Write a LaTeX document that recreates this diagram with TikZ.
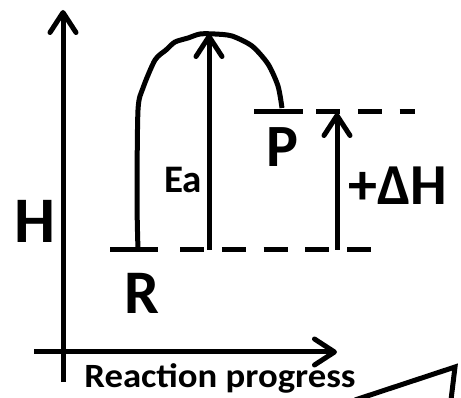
\documentclass[tikz,border=0pt]{standalone}
\usepackage{fontspec}
\setmainfont{Carlito}
\usetikzlibrary{arrows.meta, positioning}

\begin{document}
\begin{tikzpicture}[
  x=1pt, y=-1pt,
  line width=5pt,
  arrow/.style={-{Straight Barb[length=20pt, width=26pt, round]}, line join=round},
  level/.style={dash pattern=on 24pt off 17.8pt},
  lbl/.style={inner sep=0pt, font=\bfseries\fontsize{#1}{#1}\selectfont},
]
\useasboundingbox (0,0) rectangle (461,398);

% Axes
\coordinate (ybot) at (63,382);
\coordinate (ytop) at (63,10);
\coordinate (xleft) at (34,352);
\coordinate (xright) at (337,352);
\draw[arrow] (ybot) -- (ytop);
\draw[arrow] (xleft) -- (xright);

% Levels
\coordinate (r1) at (110,250);
\coordinate (r2) at (158,250);
\coordinate (r3) at (180,250);
\coordinate (r4) at (372,250);
\coordinate (p1) at (254,112);
\coordinate (p2) at (303,112);
\coordinate (p3) at (316,112);
\coordinate (p4) at (415,112);
\draw (r1) -- (r2);
\draw[level] (r3) -- (r4);
\draw (p1) -- (p2);
\draw[level] (p3) -- (p4);

% Energy curve
\coordinate (peak) at (209,34);
\draw[line join=round] plot[smooth, tension=0.45] coordinates {
  (138,250) (137,200) (138,110) (143,88) (155,60) (166,50) (175,42)
  (188,38) (200,34) (215,34) (232,36) (252,46) (268,64) (278,86) (282,108)};

% Ea and dH arrows
\coordinate (ea0) at (209,250);
\coordinate (dh0) at (337,250);
\coordinate (dh1) at (337,113);
\draw[arrow] (ea0) -- (peak);
\draw[arrow] (dh0) -- (dh1);

% Labels
\node[lbl=65] (H) at (35,221) {H};
\node[lbl=62] (R) at (142,293) {R};
\node[lbl=60] (P) at (282,147) {P};
\node[lbl=39] (Ea) at (183,180) {Ea};
\node[lbl=58] (dH) at (398,186) {+ΔH};
\node[lbl=34, anchor=base] (xlab) at (220,388) {\scalebox{1.08}[1]{Reaction progress}};

% Stray stroke at the corner
\coordinate (s1) at (355,400);
\coordinate (s2) at (455,367);
\coordinate (s3) at (451,400);
\draw[line join=miter] (s1) -- (s2) -- (s3);
\end{tikzpicture}
\end{document}
